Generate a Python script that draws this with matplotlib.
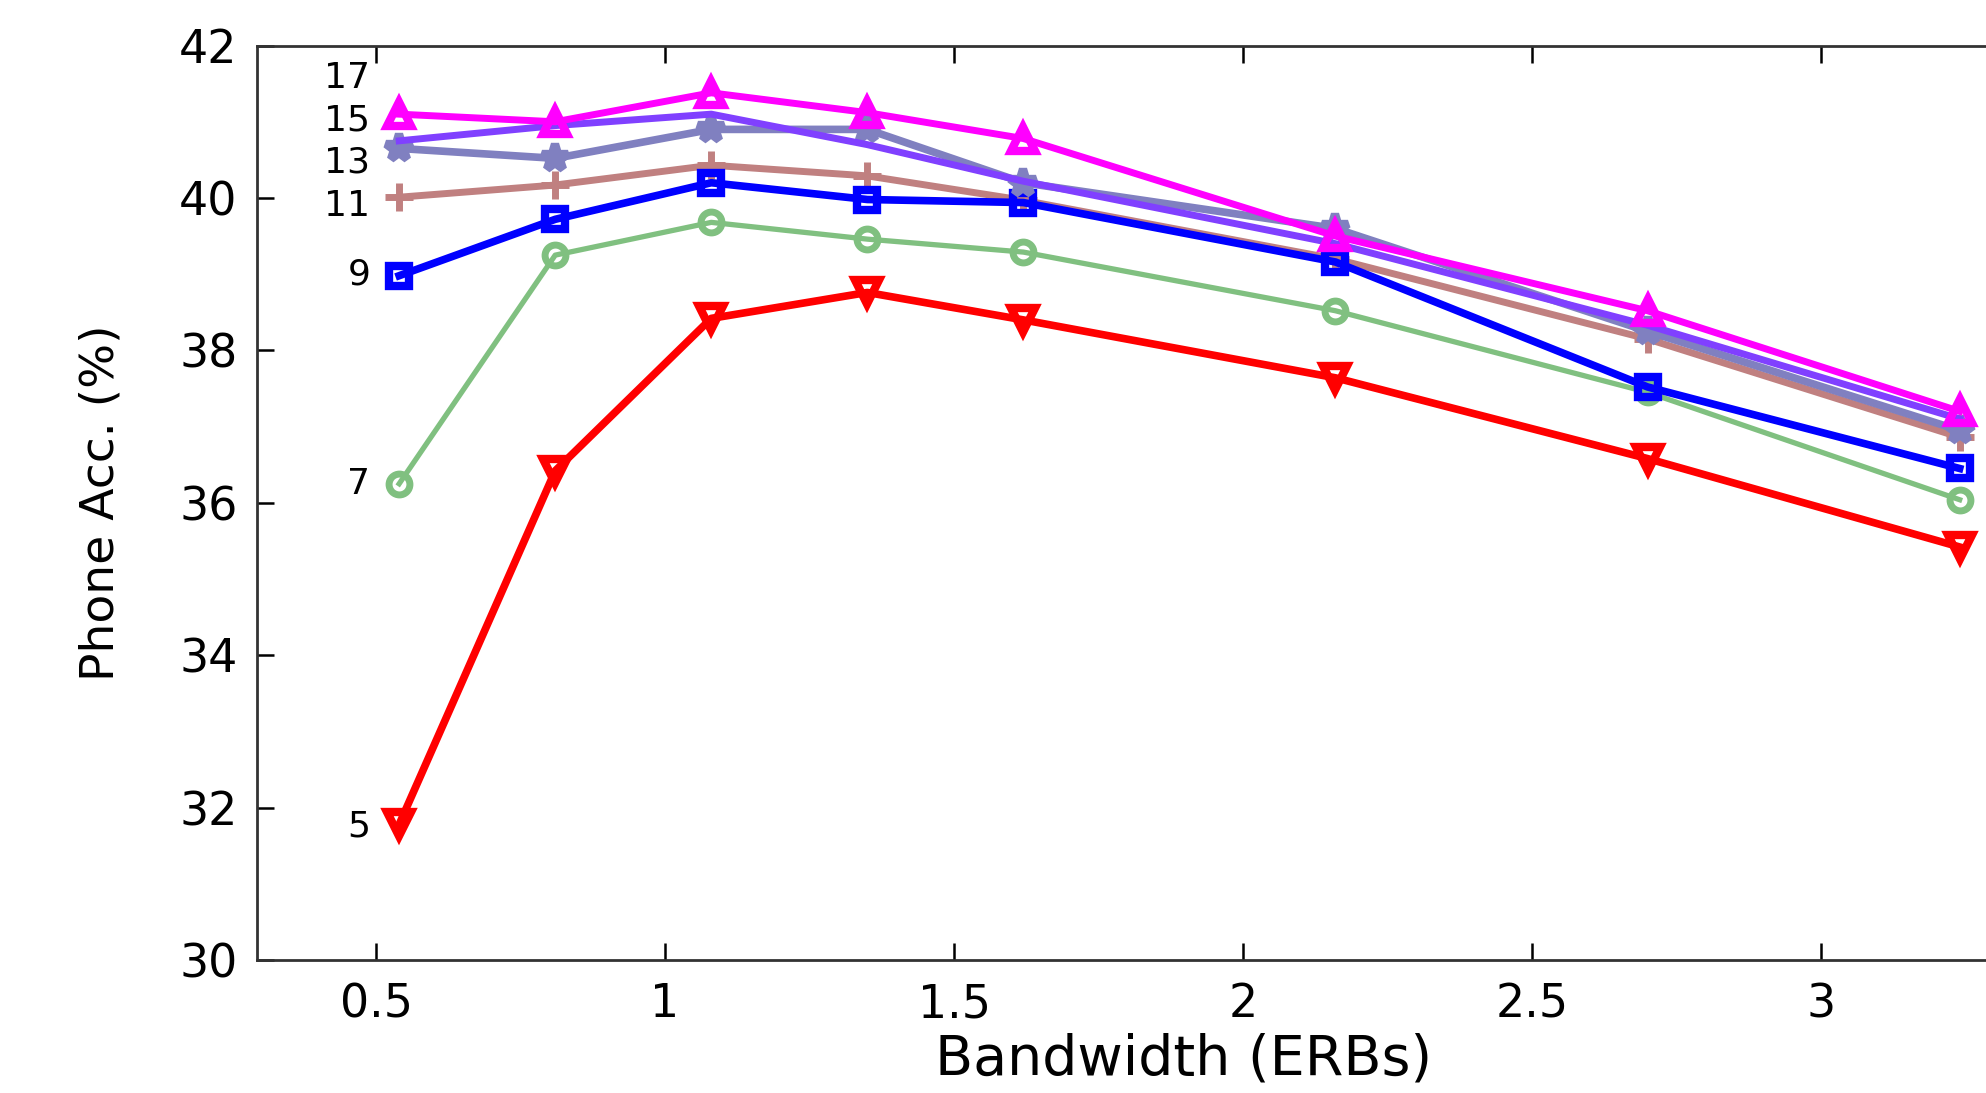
import matplotlib
matplotlib.use("Agg")
import matplotlib.pyplot as plt

bandwidth = [0.54, 0.81, 1.08, 1.35, 1.62, 2.16, 2.70, 3.24]
series_names = ["5", "7", "9", "11", "13", "15", "17"]
acc_5 = [31.78, 36.42, 38.42, 38.76, 38.40, 37.64, 36.58, 35.42]
acc_7 = [36.25, 39.25, 39.68, 39.46, 39.29, 38.52, 37.45, 36.04]
acc_9 = [38.98, 39.72, 40.20, 39.98, 39.94, 39.16, 37.52, 36.45]
acc_11 = [40.01, 40.17, 40.43, 40.29, 39.97, 39.20, 38.15, 36.86]
acc_13 = [40.65, 40.52, 40.90, 40.90, 40.20, 39.60, 38.25, 36.95]
acc_15 = [40.75, 40.95, 41.10, 40.70, 40.22, 39.40, 38.33, 37.10]
acc_17 = [41.10, 41.00, 41.38, 41.12, 40.78, 39.50, 38.52, 37.20]
label_y = [31.75, 36.25, 38.99, 39.90, 40.46, 41.02, 41.58]

all_series = [acc_5, acc_7, acc_9, acc_11, acc_13, acc_15, acc_17]
colors = ["#ff0000", "#80c080", "#0000ff", "#c08080", "#8080c0", "#8040ff", "#ff00ff"]
markers = ["v", "o", "s", "+", "*", None, "^"]
lws = [5.5, 3.8, 5.5, 5.0, 5.5, 5.0, 5.0]
msizes = [17, 15, 15, 20, 20, 0, 17]
mews = [6, 5, 6, 5, 6, 0, 6]
zorders = [3, 3, 4, 3, 4, 5, 6]

plt.rcParams['font.family'] = ['DejaVu Sans']

fig = plt.figure(figsize=(19.86, 10.93), dpi=100)
ax = fig.add_axes([0.1294, 0.1217, 0.933, 0.8366])

for vals, c, m, lw, ms, mw, z in zip(all_series, colors, markers, lws, msizes, mews, zorders):
    if m is None:
        ax.plot(bandwidth, vals, color=c, lw=lw, zorder=z)
    else:
        ax.plot(bandwidth, vals, color=c, lw=lw, marker=m, ms=ms,
                mfc="none", mec=c, mew=mw, zorder=z)

for name, y in zip(series_names, label_y):
    ax.text(0.49, y, name, ha="right", va="center", fontsize=26,
            color="black")

ax.set_xlim(0.294, 3.5)
ax.set_ylim(30, 42)
ax.set_xticks([0.5, 1, 1.5, 2, 2.5, 3])
ax.set_xticklabels(["0.5", "1", "1.5", "2", "2.5", "3"])
ax.set_yticks([30, 32, 34, 36, 38, 40, 42])
ax.tick_params(direction="in", length=12, width=1.8, top=True, right=False,
               labelsize=33, pad=14, colors="black")
ax.tick_params(axis="x", pad=16)
for s in ax.spines.values():
    s.set_linewidth(2)
    s.set_color("#333333")
ax.spines["right"].set_visible(False)

ax.set_xlabel("Bandwidth (ERBs)", fontsize=40, labelpad=4)
ax.set_ylabel("Phone Acc. (%)", fontsize=34, labelpad=40)

fig.savefig("out.png", dpi=100)
